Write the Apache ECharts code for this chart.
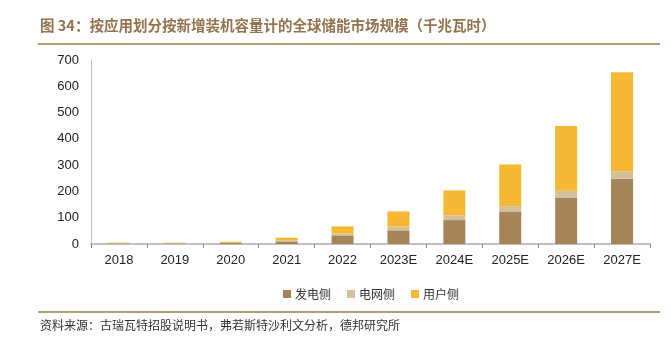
<!DOCTYPE html>
<html><head><meta charset="utf-8">
<script src="https://cdn.jsdelivr.net/npm/echarts@6/dist/echarts.min.js"></script>
<style>html,body{margin:0;padding:0;background:#fff}#c{width:671px;height:345px}</style>
</head><body><div id="c"></div>
<script>
const categories = ['2018','2019','2020','2021','2022','2023E','2024E','2025E','2026E','2027E'];
const genSide = [2, 2, 4, 10, 33, 52, 91, 124, 177, 248];
const gridSide = [1, 1, 1, 4, 7, 14, 18, 20, 26, 28];
const userSide = [2, 2, 4, 10, 27, 58, 95, 158, 246, 377];
const seriesNames = ['发电侧','电网侧','用户侧'];
const yTicks = [0,100,200,300,400,500,600,700];

const chart = echarts.init(document.getElementById('c'));
const colors = ['#A6845A','#D4C19C','#F4B835'];
const mk = (name, data, i) => ({
  name, type:'bar', stack:'s', data, barWidth:22,
  itemStyle:{color:colors[i]}
});
chart.setOption({
  animation:false,
  grid:{left:91,right:21,top:60,bottom:101},
  legend:{
    data:seriesNames, top:283, left:278, itemWidth:8, itemHeight:8, itemGap:16,
    icon:'rect',
    textStyle:{fontFamily:'Noto Sans CJK SC', fontSize:12, color:'#333', padding:[0,0,0,-1]}
  },
  xAxis:{
    type:'category', data:categories,
    axisLine:{lineStyle:{color:'#BFBFBF', width:2}},
    axisTick:{show:true, lineStyle:{color:'#888'}, length:4},
    axisLabel:{fontFamily:'Liberation Sans', fontSize:13, color:'#222', margin:10}
  },
  yAxis:{
    type:'value', min:0, max:700, interval:100,
    axisLine:{show:true, lineStyle:{color:'#BFBFBF', width:1}},
    axisTick:{show:false},
    splitLine:{show:false},
    axisLabel:{fontFamily:'Liberation Sans', fontSize:13, color:'#222', margin:12,
      formatter:v=>yTicks.includes(v)?String(v):''}
  },
  series:[mk(seriesNames[0],genSide,0), mk(seriesNames[1],gridSide,1), mk(seriesNames[2],userSide,2)],
  graphic:[
    {type:'text', left:40, top:18, style:{text:'图 34：按应用划分按新增装机容量计的全球储能市场规模（千兆瓦时）',
      fill:'#94724D', font:'bold 14.5px "Noto Sans CJK SC"'}},
    {type:'rect', shape:{x:38,y:43,width:622,height:2}, style:{fill:'#B89A78'}},
    {type:'rect', shape:{x:38,y:311,width:622,height:2}, style:{fill:'#B89A78'}},
    {type:'text', left:40, top:319, style:{text:'资料来源：古瑞瓦特招股说明书，弗若斯特沙利文分析，德邦研究所',
      fill:'#333', font:'12px "Noto Sans CJK SC"'}}
  ]
});
</script></body></html>
